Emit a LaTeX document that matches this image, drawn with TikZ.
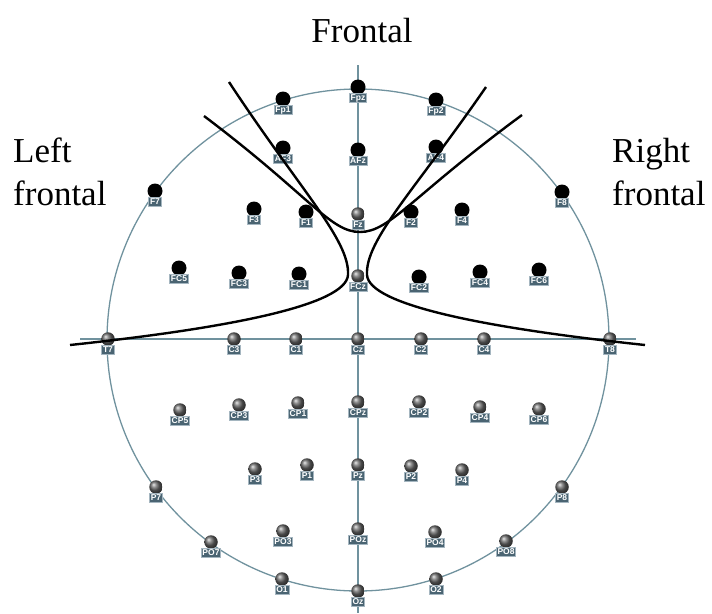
\documentclass[tikz,border=0pt]{standalone}
\usepackage{fontspec}
\setmainfont{Liberation Serif}
\setsansfont{Liberation Sans}
\usepackage{xcolor}
\usepackage{tikz}
\usetikzlibrary{
	positioning,
	shadings
}
\definecolor{CapLine}{RGB}{112,146,158}
\definecolor{TagFill}{RGB}{74,100,114}
\definecolor{TagEdge}{RGB}{165,182,192}

\begin{document}
\begin{tikzpicture}[x=1pt,y=-1pt,
	tag/.style={fill=TagFill,draw=TagEdge,line width=0.7pt,text=white,inner xsep=1.3pt,inner ysep=1pt,
		font=\sffamily\bfseries\fontsize{8.5}{8.5}\selectfont,text height=6pt,text depth=0.8pt},
	activeel/.style={circle,fill=black,minimum size=15pt,inner sep=0pt,
		label={[tag,label distance=-1.5pt]below:#1}},
	passiveel/.style={circle,shading=ball,ball color=gray!80!black,minimum size=13.5pt,inner sep=0pt,
		label={[tag,label distance=-0.5pt]below:#1}},
	region/.style={line width=2.4pt,black},
	bigtext/.style={font=\fontsize{35}{43}\selectfont}]
		\useasboundingbox (0,0) rectangle (712,613);
		
		% Kopfumriss und Achsen
		\draw[CapLine,line width=1.3pt] (358,340) circle (251);
		\draw[CapLine,line width=1.1pt] (358,65) -- (358,613);
		\draw[CapLine,line width=1.1pt] (80,339) -- (636,339);
		
		% aktive Elektroden (frontal)
		\foreach \ename/\ex/\ey in {Fpz/358/87,Fp1/283/99,Fp2/436/100,AF3/283/148,AFz/358/150,
			AF4/436/147,F7/155/191,F3/254/209,F1/306/212,F2/411/212,F4/462/210,F8/562/192,
			FC5/179/268,FC3/239/273,FC1/299/274,FC2/419/277,FC4/480/272,FC6/539/270}
			\node[activeel=\ename] (\ename) at (\ex,\ey) {};
		
		% passive Elektroden
		\foreach \ename/\ex/\ey in {Fz/358/214,FCz/358/276,T7/108/339,C3/234/339,C1/296/339,
			Cz/358/339,C2/421/339,C4/484/339,T8/610/339,CP5/180/410,CP3/239/405,CP1/298/403,
			CPz/358/402,CP2/419/402,CP4/480/407,CP6/539/409,P7/156/487,P3/255/469,P1/307/465,
			Pz/358/465,P2/411/466,P4/462/470,P8/562/487,PO7/211/542,PO3/283/531,POz/358/529,
			PO4/435/532,PO8/506/541,O1/282/579,Oz/358/591,O2/436/579}
			\node[passiveel=\ename] (\ename) at (\ex,\ey) {};
		
		% Grenzlinien
		\draw[region] (229,82) .. controls (300,190) and (350,240) .. (348,275)
			.. controls (346,305) and (230,328) .. (70,345);
		\draw[region] (486,87) .. controls (415,190) and (365,240) .. (367,275)
			.. controls (369,305) and (485,328) .. (645,345);
		\draw[region] (204,116) .. controls (310,196) and (330,232) .. (360,232)
			.. controls (390,232) and (412,196) .. (522,115);
		
		% Beschriftung
		\node[bigtext,anchor=base] (frontal) at (362,42) {Frontal};
		\node[bigtext,align=left,anchor=base west,inner sep=0pt] (leftfr) at (13,205) {Left\\frontal};
		\node[bigtext,align=left,anchor=base west,inner sep=0pt] (rightfr) at (612,205) {Right\\frontal};
	\end{tikzpicture}
\end{document}
